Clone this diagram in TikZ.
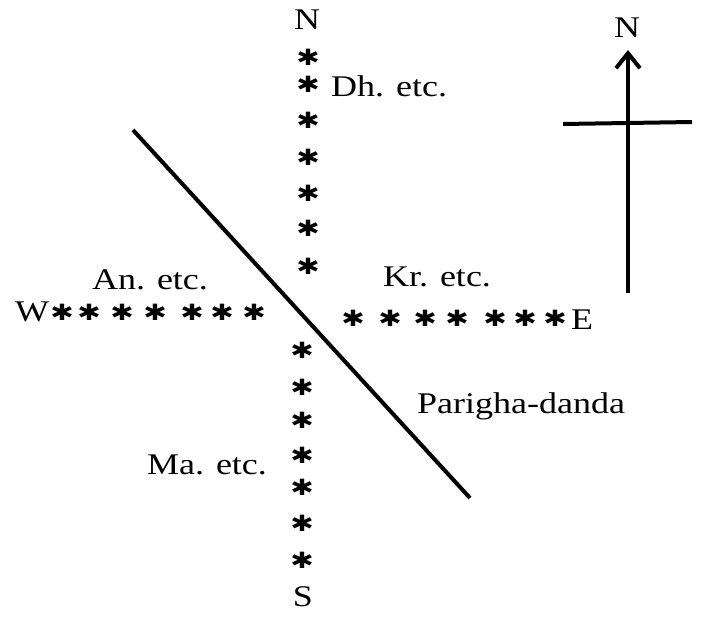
\documentclass[tikz,border=0pt]{standalone}
\usepackage{fontspec}
\setmainfont{Liberation Serif}
\newfontfamily\starfont{DejaVu Sans}
\usetikzlibrary{arrows.meta}

\begin{document}
\begin{tikzpicture}[x=1pt,y=-1pt,
  lbl/.style={font=\fontsize{30}{32}\selectfont,inner sep=0pt,xscale=1.2},
  nak/.style={font=\starfont\fontsize{28}{28}\selectfont,inner sep=0pt,yscale=0.8},
  rod/.style={line width=4pt}]
  \useasboundingbox (0,0) rectangle (709,620);
  % nakshatras, north and south
  \foreach \y [count=\i] in {57,84,120,157,193,228,266}
    \node[nak] (n\i) at (308,\y) {✱};
  \foreach \y [count=\i] in {350,387,420,455,487,523,560}
    \node[nak] (s\i) at (302,\y) {✱};
  % west and east
  \foreach \x [count=\i] in {62,89,122,155,192,222,254}
    \node[nak] (w\i) at (\x,312) {✱};
  \foreach \x [count=\i] in {353,390,425,457,495,525,555}
    \node[nak] (e\i) at (\x,318) {✱};
  \node[lbl] (N) at (307,20) {N};
  \node[lbl] (S) at (303,597) {S};
  \node[lbl] (W) at (32,312) {W};
  \node[lbl] (E) at (582,320) {E};
  \node[lbl,anchor=west] (dh) at (331,86) {Dh. etc.};
  \node[lbl] (an) at (150,280) {An. etc.};
  \node[lbl] (kr) at (437,277) {Kr. etc.};
  \node[lbl] (ma) at (207,465) {Ma. etc.};
  \node[lbl] (pd) at (521,406) {Parigha-danda};
  % the parigha line
  \coordinate (p1) at (133,130);
  \coordinate (p2) at (470,498);
  \draw[rod] (p1) -- (p2);
  % compass
  \coordinate (c0) at (628,123);
  \coordinate (cb) at (628,293);
  \coordinate (ct) at (628,50);
  \coordinate (cw) at (563,124);
  \coordinate (ce) at (692,122);
  \draw[rod] (cw) -- (c0) -- (ce);
  \draw[rod,-{Straight Barb[length=15pt,width=24pt]}] (cb) -- (ct);
  \node[lbl] (cn) at (627,28) {N};
\end{tikzpicture}
\end{document}
